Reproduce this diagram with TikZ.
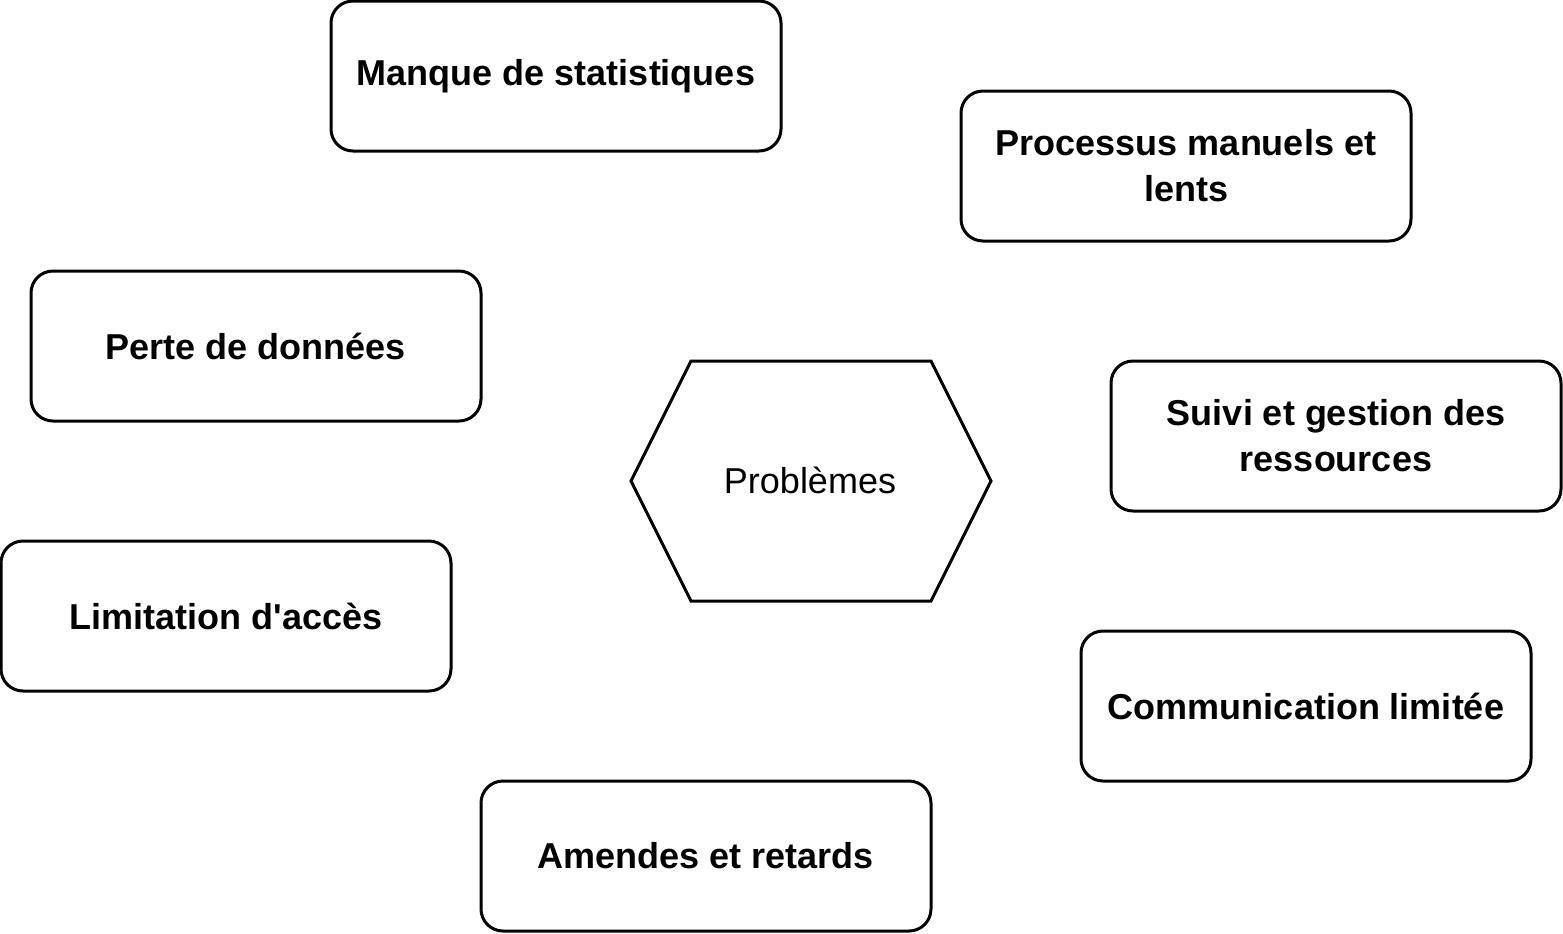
\documentclass[tikz,border=0pt]{standalone}
\usepackage{fontspec}
\setmainfont{Liberation Sans}[Ligatures=TeXOff]
\begin{document}
\begin{tikzpicture}[x=0.5pt,y=-0.5pt,
  box/.style={draw=black, line width=1.5pt, rounded corners=11pt, minimum width=225pt, minimum height=75pt, align=center, font=\fontsize{18}{23}\selectfont\bfseries, inner sep=0pt},
  hexa/.style={draw=black, line width=1.5pt}]
\useasboundingbox (0,0) rectangle (1563,933);
\node[box] (manque) at (556,76) {Manque de statistiques};
\node[box] (processus) at (1186,166) {Processus manuels et\\lents};
\node[box] (perte) at (256,346) {Perte de données};
\node[box] (suivi) at (1336,436) {Suivi et gestion des\\ressources};
\node[box] (limitation) at (226,616) {Limitation d'accès};
\node[box] (communication) at (1306,706) {Communication limitée};
\node[box] (amendes) at (706,856) {Amendes et retards};
\draw[hexa] (631,481) -- (691,361) -- (931,361) -- (991,481) -- (931,601) -- (691,601) -- cycle;
\node[font=\fontsize{18}{23}\selectfont] (problemes) at (810,480) {Problèmes};
\end{tikzpicture}
\end{document}
